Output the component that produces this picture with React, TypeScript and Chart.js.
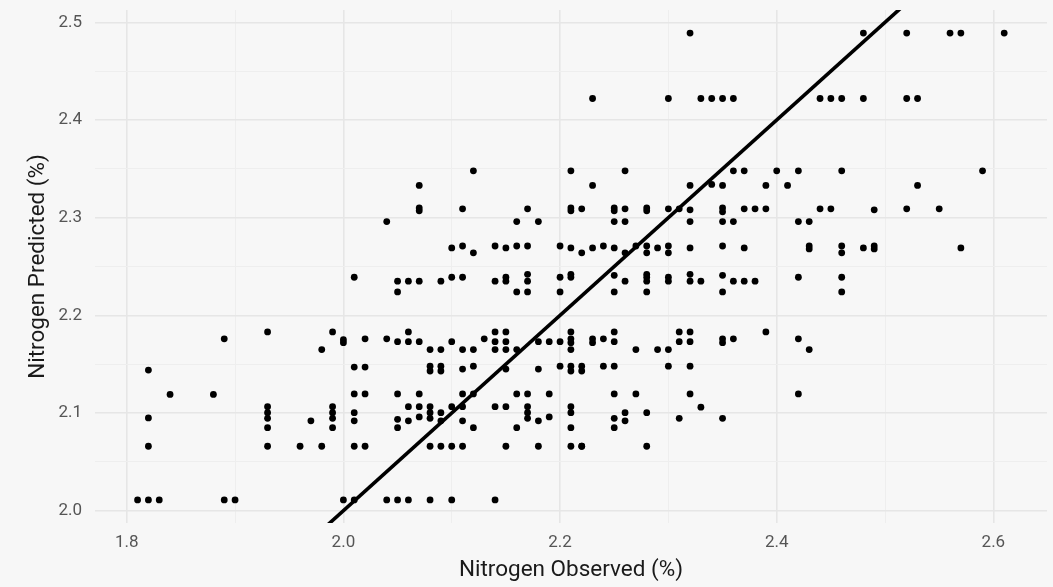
import React, { useEffect, useRef } from 'react';
import { Chart, registerables } from 'chart.js';

Chart.register(...registerables);

// Observed nitrogen (%) for each sample
const observedN: number[] = [
  2.04, 2.07, 2.07, 2.07, 2.10, 2.11, 2.11, 2.12, 2.12, 2.14, 2.15, 2.16, 2.16, 2.17, 2.17, 2.18, 2.20, 2.21, 2.21, 2.21, 2.21, 2.22, 2.22,
  2.32, 2.23, 2.30, 2.33, 2.34, 2.35, 2.36, 2.26, 2.23, 2.36, 2.37, 2.40, 2.42, 2.32, 2.34, 2.35, 2.39, 2.41,
  2.25, 2.25, 2.26, 2.28, 2.28, 2.30, 2.31, 2.32, 2.35, 2.35, 2.37, 2.38, 2.39,
  2.25, 2.26, 2.32, 2.35, 2.36, 2.42, 2.43,
  2.23, 2.24, 2.25, 2.26, 2.27, 2.28, 2.28, 2.29, 2.30, 2.30, 2.32, 2.35, 2.37, 2.43, 2.43,
  2.48, 2.52, 2.56, 2.57, 2.61, 2.44, 2.45, 2.46, 2.48, 2.52, 2.53, 2.46, 2.59, 2.53,
  2.44, 2.45, 2.49, 2.52, 2.55, 2.46, 2.46, 2.48, 2.49, 2.49, 2.57,
  1.89, 1.82, 1.84, 1.88, 1.82, 1.82, 1.81, 1.82, 1.83, 1.89, 1.90,
  1.93, 1.93, 1.93, 1.93, 1.93, 1.93, 1.96, 1.97, 1.98, 1.98, 1.99, 1.99, 1.99, 1.99, 1.99,
  2.01, 2.05, 2.06, 2.07, 2.05, 2.09, 2.10, 2.11, 2.14, 2.15, 2.15, 2.17, 2.17, 2.16, 2.17, 2.20, 2.21, 2.21, 2.20,
  2.06, 2.00, 2.00, 2.02, 2.04, 2.05, 2.06, 2.07, 2.08, 2.09, 2.10, 2.11, 2.12, 2.13,
  2.14, 2.14, 2.14, 2.15, 2.15, 2.15, 2.16, 2.18, 2.19, 2.20, 2.21, 2.21, 2.21, 2.21,
  2.01, 2.02, 2.08, 2.08, 2.09, 2.09, 2.11, 2.12, 2.15, 2.18, 2.20, 2.21, 2.21,
  2.01, 2.02, 2.05, 2.07, 2.11, 2.12, 2.16, 2.17, 2.19,
  2.06, 2.07, 2.08, 2.08, 2.08, 2.09, 2.10, 2.11, 2.14, 2.15, 2.17, 2.17, 2.17, 2.21, 2.21,
  2.01, 2.01, 2.05, 2.05, 2.06, 2.07, 2.09, 2.11, 2.12, 2.16, 2.18, 2.19, 2.21,
  2.01, 2.02, 2.08, 2.09, 2.10, 2.11, 2.15, 2.18, 2.21, 2.22,
  2.00, 2.01, 2.04, 2.05, 2.06, 2.08, 2.10, 2.14,
  2.25, 2.25, 2.26, 2.28, 2.28, 2.28, 2.28, 2.30, 2.30, 2.32, 2.32, 2.33, 2.35, 2.35, 2.36, 2.37, 2.38, 2.42, 2.46, 2.46,
  2.25, 2.23, 2.23, 2.24, 2.25, 2.27, 2.29, 2.30, 2.31, 2.32, 2.31, 2.32, 2.35, 2.35, 2.36, 2.39, 2.42, 2.43,
  2.22, 2.22, 2.24, 2.25, 2.30, 2.32,
  2.25, 2.27, 2.32, 2.42, 2.33, 2.26, 2.26, 2.25, 2.25, 2.28, 2.31, 2.35, 2.22, 2.28,
];

// Predicted nitrogen (%) for each sample (same order)
const predictedN: number[] = [
  2.296, 2.333, 2.307, 2.310, 2.269, 2.271, 2.309, 2.348, 2.264, 2.271, 2.269, 2.296, 2.271, 2.309, 2.271, 2.296, 2.271, 2.348, 2.307, 2.310, 2.269, 2.309, 2.264,
  2.489, 2.422, 2.422, 2.422, 2.422, 2.422, 2.422, 2.348, 2.333, 2.348, 2.348, 2.348, 2.348, 2.333, 2.334, 2.333, 2.333, 2.333,
  2.307, 2.310, 2.309, 2.307, 2.310, 2.309, 2.309, 2.308, 2.306, 2.310, 2.309, 2.309, 2.309,
  2.296, 2.296, 2.296, 2.296, 2.296, 2.296, 2.296,
  2.269, 2.271, 2.269, 2.264, 2.271, 2.271, 2.264, 2.269, 2.271, 2.264, 2.269, 2.271, 2.269, 2.271, 2.268,
  2.489, 2.489, 2.489, 2.489, 2.489, 2.422, 2.422, 2.422, 2.422, 2.422, 2.422, 2.348, 2.348, 2.333,
  2.309, 2.309, 2.308, 2.309, 2.309, 2.271, 2.264, 2.269, 2.271, 2.268, 2.269,
  2.176, 2.144, 2.119, 2.119, 2.095, 2.066, 2.011, 2.011, 2.011, 2.011, 2.011,
  2.183, 2.1065, 2.1003, 2.0946, 2.085, 2.066, 2.066, 2.092, 2.165, 2.066, 2.183, 2.1065, 2.1003, 2.0946, 2.085,
  2.239, 2.235, 2.235, 2.235, 2.224, 2.235, 2.239, 2.239, 2.235, 2.239, 2.235, 2.242, 2.235, 2.224, 2.224, 2.239, 2.242, 2.239, 2.224,
  2.183, 2.175, 2.172, 2.176, 2.176, 2.173, 2.173, 2.173, 2.165, 2.165, 2.173, 2.165, 2.165, 2.176,
  2.183, 2.173, 2.165, 2.183, 2.173, 2.165, 2.165, 2.173, 2.173, 2.173, 2.183, 2.176, 2.172, 2.165,
  2.147, 2.147, 2.148, 2.143, 2.148, 2.143, 2.145, 2.148, 2.145, 2.145, 2.148, 2.148, 2.143,
  2.1195, 2.1195, 2.1195, 2.1195, 2.1195, 2.1195, 2.1195, 2.1195, 2.1195,
  2.1065, 2.1065, 2.1065, 2.1003, 2.0946, 2.1003, 2.1065, 2.1065, 2.1065, 2.1065, 2.1065, 2.1003, 2.0946, 2.1065, 2.1003,
  2.1003, 2.092, 2.0935, 2.085, 2.092, 2.096, 2.092, 2.092, 2.085, 2.085, 2.092, 2.096, 2.085,
  2.066, 2.066, 2.066, 2.066, 2.066, 2.066, 2.066, 2.066, 2.066, 2.066,
  2.011, 2.011, 2.011, 2.011, 2.011, 2.011, 2.011, 2.011,
  2.241, 2.224, 2.235, 2.242, 2.239, 2.235, 2.224, 2.239, 2.235, 2.242, 2.235, 2.235, 2.241, 2.224, 2.235, 2.235, 2.235, 2.239, 2.239, 2.224,
  2.183, 2.176, 2.172, 2.176, 2.173, 2.165, 2.165, 2.165, 2.183, 2.183, 2.173, 2.173, 2.176, 2.172, 2.176, 2.183, 2.176, 2.165,
  2.148, 2.143, 2.148, 2.148, 2.148, 2.148,
  2.1195, 2.1195, 2.1195, 2.1195, 2.106, 2.1003, 2.092, 2.0946, 2.085, 2.1003, 2.0946, 2.0946, 2.066, 2.066,
];

// 1:1 reference line (observed = predicted)
const oneToOneX: number[] = [1.9, 2.6];

const xMajorTicks: number[] = [1.8, 2.0, 2.2, 2.4, 2.6];
const xMinorTicks: number[] = [1.9, 2.1, 2.3, 2.5];
const yMajorTicks: number[] = [2.0, 2.1, 2.2, 2.3, 2.4, 2.5];
const yMinorTicks: number[] = [2.05, 2.15, 2.25, 2.35, 2.45];

const xTitle = 'Nitrogen Observed (%)';
const yTitle = 'Nitrogen Predicted (%)';

const FONT = 'Roboto, "Noto Sans", sans-serif';
const BG = '#f7f7f7';

const isMajor = (list: number[], v: number) => list.some((m) => Math.abs(m - v) < 1e-6);

export default function App() {
  const canvasRef = useRef<HTMLCanvasElement | null>(null);

  useEffect(() => {
    if (!canvasRef.current) return;
    const points = observedN.map((x, i) => ({ x, y: predictedN[i] }));
    const linePts = oneToOneX.map((v) => ({ x: v, y: v }));

    const chart = new Chart(canvasRef.current, {
      type: 'scatter',
      data: {
        datasets: [
          {
            type: 'scatter',
            data: points,
            backgroundColor: '#000000',
            borderColor: '#000000',
            borderWidth: 0,
            pointRadius: 3.4,
            pointHoverRadius: 3.4,
            order: 2,
          },
          {
            type: 'line',
            data: linePts,
            borderColor: '#000000',
            borderWidth: 3.6,
            pointRadius: 0,
            showLine: true,
            fill: false,
            clip: 0,
            order: 1,
          } as any,
        ],
      },
      options: {
        animation: false,
        responsive: false,
        events: [],
        layout: { padding: { top: 10, right: 6, left: 0, bottom: 0 } },
        plugins: { legend: { display: false }, tooltip: { enabled: false } },
        scales: {
          x: {
            type: 'linear',
            min: 1.7707,
            max: 2.6495,
            afterBuildTicks: (scale: any) => {
              scale.ticks = [...xMajorTicks, ...xMinorTicks].sort((a, b) => a - b).map((v) => ({ value: v }));
            },
            afterFit: (scale: any) => {
              scale.height = 64;
              scale.paddingLeft = 0;
              scale.paddingRight = 0;
            },
            border: { display: false },
            grid: {
              drawTicks: false,
              color: (ctx: any) => (isMajor(xMajorTicks, ctx.tick.value) ? '#e6e6e6' : '#eeeeee'),
              lineWidth: (ctx: any) => (isMajor(xMajorTicks, ctx.tick.value) ? 1.6 : 1),
            },
            ticks: {
              padding: 10,
              color: '#555555',
              font: { family: FONT, size: 17 },
              maxRotation: 0,
              autoSkip: false,
              callback: (v: any) => (isMajor(xMajorTicks, Number(v)) ? Number(v).toFixed(1) : ''),
            },
            title: {
              display: true,
              text: xTitle,
              color: '#1a1a1a',
              font: { family: FONT, size: 22.5 },
              padding: { top: 0, bottom: 3.5 },
            },
          },
          y: {
            type: 'linear',
            min: 1.9874,
            max: 2.5126,
            afterBuildTicks: (scale: any) => {
              scale.ticks = [...yMajorTicks, ...yMinorTicks].sort((a, b) => a - b).map((v) => ({ value: v }));
            },
            afterFit: (scale: any) => {
              scale.width = 95;
              scale.paddingTop = 0;
              scale.paddingBottom = 0;
            },
            border: { display: false },
            grid: {
              drawTicks: false,
              color: (ctx: any) => (isMajor(yMajorTicks, ctx.tick.value) ? '#e6e6e6' : '#eeeeee'),
              lineWidth: (ctx: any) => (isMajor(yMajorTicks, ctx.tick.value) ? 1.6 : 1),
            },
            ticks: {
              padding: 13,
              color: '#555555',
              font: { family: FONT, size: 17 },
              autoSkip: false,
              callback: (v: any) => (isMajor(yMajorTicks, Number(v)) ? Number(v).toFixed(1) : ''),
            },
            title: {
              display: true,
              text: yTitle,
              color: '#1a1a1a',
              font: { family: FONT, size: 22.5 },
              padding: { top: 25, bottom: 0 },
            },
          },
        },
      },
    } as any);

    return () => chart.destroy();
  }, []);

  return (
    <div
      style={{
        position: 'fixed',
        left: 0,
        top: 0,
        width: 1053,
        height: 587,
        background: BG,
      }}
    >
      <canvas ref={canvasRef} width={1053} height={587} style={{ display: 'block' }} />
    </div>
  );
}
